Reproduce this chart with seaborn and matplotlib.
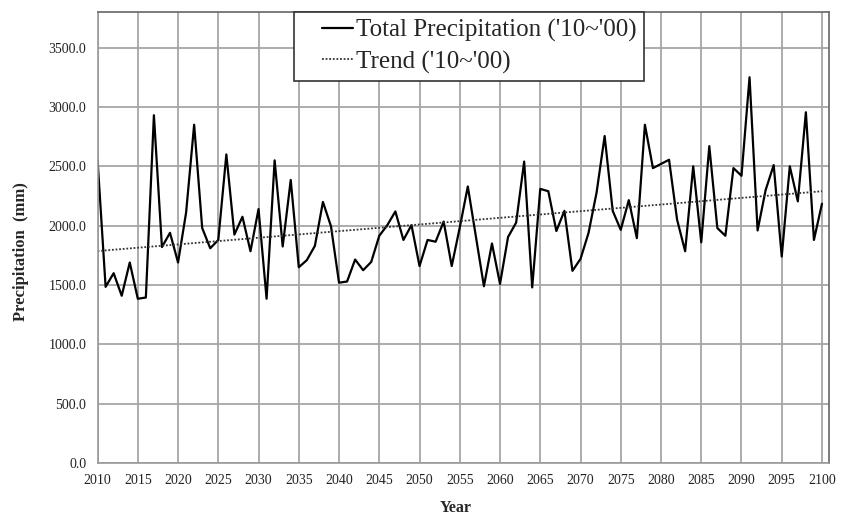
import numpy as np
import pandas as pd
import matplotlib
matplotlib.use("Agg")
import matplotlib.pyplot as plt
from matplotlib.legend_handler import HandlerLine2D
import seaborn as sns

# Annual total precipitation (mm), 2010-2100
years = list(range(2010, 2101))
precip = [
    2555, 1485, 1600, 1410, 1690, 1385, 1395, 2930, 1820, 1940,   # 2010-2019
    1690, 2110, 2850, 1980, 1810, 1880, 2600, 1925, 2075, 1785,   # 2020-2029
    2140, 1385, 2550, 1825, 2385, 1650, 1710, 1830, 2200, 1995,   # 2030-2039
    1520, 1530, 1715, 1625, 1695, 1915, 2005, 2120, 1880, 2005,   # 2040-2049
    1660, 1880, 1865, 2035, 1660, 1985, 2330, 1910, 1490, 1850,   # 2050-2059
    1510, 1905, 2025, 2540, 1480, 2310, 2290, 1955, 2125, 1620,   # 2060-2069
    1720, 1940, 2280, 2755, 2125, 1965, 2215, 1895, 2850, 2485,   # 2070-2079
    2520, 2555, 2050, 1785, 2500, 1860, 2670, 1980, 1915, 2485,   # 2080-2089
    2420, 3250, 1960, 2300, 2510, 1740, 2500, 2205, 2955, 1880,   # 2090-2099
    2185,                                                         # 2100
]

series_label = "Total Precipitation ('10~'00)"
trend_label = "Trend ('10~'00)"
y_ticks = [0, 500, 1000, 1500, 2000, 2500, 3000, 3500]
x_ticks = list(range(2010, 2101, 5))

df = pd.DataFrame({"Year": years, "Precip": precip})
coef = np.polyfit(df["Year"], df["Precip"], 1)
df["Trend"] = np.polyval(coef, df["Year"])


class RightAlignedLine(HandlerLine2D):
    """Legend line sample drawn only in the right part of the handle box."""

    def __init__(self, frac=0.6, **kw):
        super().__init__(**kw)
        self._frac = frac

    def get_xdata(self, legend, xdescent, ydescent, width, height, fontsize):
        x0 = -xdescent + width * (1 - self._frac)
        x1 = -xdescent + width
        return [x0, x1], [0.5 * (x0 + x1)]


sns.set_style("white")
plt.rcParams["font.family"] = ["Liberation Serif", "DejaVu Serif"]

fig = plt.figure(figsize=(8.41, 5.17), dpi=100)
ax = fig.add_axes([0.116, 0.104, 0.870, 0.873])

sns.lineplot(data=df, x="Year", y="Precip", ax=ax, color="black",
             linewidth=1.6, label=series_label)
sns.lineplot(data=df, x="Year", y="Trend", ax=ax, color="#333333",
             linewidth=1.3, linestyle=(0, (1, 1)), label=trend_label)

ax.set_xlim(2010, 2100.9)
ax.set_ylim(0, 3800)
ax.set_xticks(x_ticks)
ax.set_yticks(y_ticks)
ax.set_yticklabels([f"{v:.1f}" for v in y_ticks])
ax.tick_params(axis="both", labelsize=10, labelcolor="#222222", length=4,
               width=1, direction="out", pad=4, color="#888888")

ax.grid(True, color="#a6a6a6", linewidth=1.3)
ax.set_axisbelow(True)
for side, sp in ax.spines.items():
    sp.set_visible(True)
    sp.set_color("#666666" if side in ("top", "right") else "#999999")
    sp.set_linewidth(1.2)

ax.set_xlabel("Year", fontsize=11.5, fontweight="bold")
ax.set_ylabel("Precipitation  (mm)", fontsize=12, fontweight="bold")
ax.xaxis.set_label_coords(0.49, -0.10)
ax.yaxis.set_label_coords(-0.104, 0.47)
ax.xaxis.label.set_va("center")
ax.yaxis.label.set_va("center")

handles, labels = ax.get_legend_handles_labels()
leg = ax.legend(handles, labels, loc="upper center", bbox_to_anchor=(0.508, 1.0),
                borderaxespad=0, fontsize=18, frameon=True, fancybox=False,
                handlelength=2.05, handletextpad=0.12, labelspacing=0.32,
                borderpad=0.3,
                handler_map={h: RightAlignedLine() for h in handles})
leg.get_frame().set_edgecolor("#333333")
leg.get_frame().set_linewidth(1.2)
leg.get_frame().set_alpha(1)

fig.savefig("out.png", dpi=100)
